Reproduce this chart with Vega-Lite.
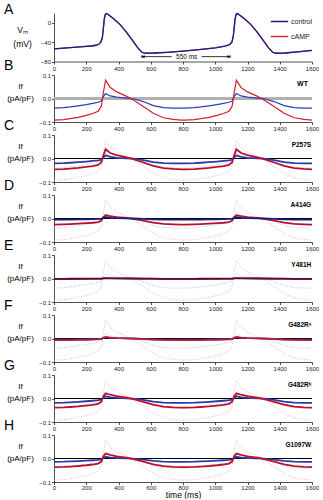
{
"$schema":"https://vega.github.io/schema/vega-lite/v6.json",
"padding":{"left":4,"top":2,"right":0,"bottom":0},
"background":"white",
"bounds":"flush",
"spacing":13,
"config":{
 "view":{"stroke":null},
 "font":"Liberation Sans",
 "axis":{"grid":false,"labelOverlap":false,"labelFlush":false,"labelFontSize":6,"tickSize":2.5,"labelPadding":1,"domainColor":"#222","tickColor":"#222","labelColor":"#222","titleColor":"#000","titleFontWeight":"normal","labelFont":"Liberation Sans","titleFont":"Liberation Sans","domainWidth":0.8,"tickWidth":0.8},
 "title":{"fontSize":14,"fontWeight":"normal","anchor":"start","frame":"group","dx":-50,"offset":-1,"baseline":"alphabetic","color":"#000","font":"Liberation Sans"}
},
"datasets":{
 "V":[{"t":0,"v":-54},{"t":60,"v":-52.5},{"t":120,"v":-51},{"t":180,"v":-49.5},{"t":230,"v":-48},{"t":260,"v":-46.5},{"t":280,"v":-44},{"t":292,"v":-39},{"t":300,"v":-30},{"t":306,"v":-12},{"t":312,"v":8},{"t":318,"v":17},{"t":326,"v":19},{"t":340,"v":16},{"t":370,"v":8},{"t":410,"v":-4},{"t":450,"v":-20},{"t":490,"v":-38},{"t":520,"v":-52},{"t":545,"v":-61},{"t":565,"v":-63},{"t":620,"v":-62.5},{"t":700,"v":-61},{"t":800,"v":-58.5},{"t":900,"v":-55.5},{"t":1000,"v":-52},{"t":1060,"v":-48.5},{"t":1090,"v":-45},{"t":1103,"v":-40},{"t":1111,"v":-30},{"t":1117,"v":-12},{"t":1123,"v":8},{"t":1129,"v":17},{"t":1137,"v":19},{"t":1151,"v":16},{"t":1181,"v":8},{"t":1221,"v":-4},{"t":1261,"v":-20},{"t":1301,"v":-38},{"t":1331,"v":-52},{"t":1356,"v":-61},{"t":1376,"v":-63},{"t":1431,"v":-62.5},{"t":1511,"v":-60},{"t":1600,"v":-57}],
 "I":[
{"t":0,"wc":-0.041,"wa":-0.092,"pc":-0.0205,"pa":-0.046,"ac":-0.005,"aa":-0.026,"yc":-0.0012,"ya":-0.0028,"fc":-0.005,"fa":-0.0074,"gc":-0.0185,"ga":-0.0386,"hc":-0.0144,"ha":-0.0368},
{"t":60,"wc":-0.039,"wa":-0.090,"pc":-0.0195,"pa":-0.045,"ac":-0.0048,"aa":-0.025,"yc":-0.0012,"ya":-0.0027,"fc":-0.0048,"fa":-0.0072,"gc":-0.0176,"ga":-0.0378,"hc":-0.0137,"ha":-0.036},
{"t":100,"wc":-0.036,"wa":-0.086,"pc":-0.018,"pa":-0.043,"ac":-0.0044,"aa":-0.024,"yc":-0.0011,"ya":-0.0026,"fc":-0.0044,"fa":-0.0069,"gc":-0.0162,"ga":-0.0361,"hc":-0.0126,"ha":-0.0344},
{"t":150,"wc":-0.031,"wa":-0.080,"pc":-0.0155,"pa":-0.040,"ac":-0.0038,"aa":-0.022,"yc":-0.0009,"ya":-0.0024,"fc":-0.0038,"fa":-0.0064,"gc":-0.014,"ga":-0.0336,"hc":-0.0109,"ha":-0.032},
{"t":200,"wc":-0.026,"wa":-0.072,"pc":-0.013,"pa":-0.036,"ac":-0.0032,"aa":-0.020,"yc":-0.0008,"ya":-0.0022,"fc":-0.0032,"fa":-0.0058,"gc":-0.0117,"ga":-0.0302,"hc":-0.0091,"ha":-0.0288},
{"t":240,"wc":-0.021,"wa":-0.064,"pc":-0.0105,"pa":-0.032,"ac":-0.0026,"aa":-0.018,"yc":-0.0006,"ya":-0.0019,"fc":-0.0026,"fa":-0.0051,"gc":-0.0095,"ga":-0.0269,"hc":-0.0074,"ha":-0.0256},
{"t":274,"wc":-0.016,"wa":-0.054,"pc":-0.008,"pa":-0.027,"ac":-0.002,"aa":-0.015,"yc":-0.0005,"ya":-0.0016,"fc":-0.002,"fa":-0.0043,"gc":-0.0072,"ga":-0.0227,"hc":-0.0056,"ha":-0.0216},
{"t":294,"wc":-0.011,"wa":-0.032,"pc":-0.0055,"pa":-0.016,"ac":-0.0013,"aa":-0.009,"yc":-0.0003,"ya":-0.001,"fc":-0.0013,"fa":-0.0026,"gc":-0.005,"ga":-0.0139,"hc":-0.0039,"ha":-0.0132},
{"t":306,"wc":0.008,"wa":0.025,"pc":0.005,"pa":0.0125,"ac":0.003,"aa":0.006,"yc":0.0002,"ya":0.0008,"fc":0.003,"fa":0.002,"gc":0.0036,"ga":0.010,"hc":0.0028,"ha":0.010},
{"t":320,"wc":0.021,"wa":0.078,"pc":0.013,"pa":0.039,"ac":0.006,"aa":0.014,"yc":0.0006,"ya":0.0023,"fc":0.006,"fa":0.0062,"gc":0.0095,"ga":0.022,"hc":0.0074,"ha":0.021},
{"t":349,"wc":0.011,"wa":0.047,"pc":0.0065,"pa":0.0235,"ac":0.003,"aa":0.010,"yc":0.0003,"ya":0.0014,"fc":0.003,"fa":0.0038,"gc":0.005,"ga":0.016,"hc":0.0039,"ha":0.015},
{"t":389,"wc":0.006,"wa":0.028,"pc":0.003,"pa":0.014,"ac":0.0015,"aa":0.006,"yc":0.0002,"ya":0.0008,"fc":0.0015,"fa":0.0022,"gc":0.0027,"ga":0.010,"hc":0.0021,"ha":0.0095},
{"t":451,"wc":0.002,"wa":0.009,"pc":0.001,"pa":0.0045,"ac":0.0002,"aa":0.0025,"yc":0.0001,"ya":0.0003,"fc":0.0002,"fa":0.0007,"gc":0.0009,"ga":0.0038,"hc":0.0007,"ha":0.0036},
{"t":492,"wc":-0.001,"wa":-0.006,"pc":-0.0005,"pa":-0.003,"ac":-0.0001,"aa":-0.0017,"yc":0,"ya":-0.0002,"fc":-0.0001,"fa":-0.0005,"gc":-0.0005,"ga":-0.0025,"hc":-0.0004,"ha":-0.0024},
{"t":554,"wc":-0.013,"wa":-0.034,"pc":-0.0065,"pa":-0.017,"ac":-0.0016,"aa":-0.0095,"yc":-0.0004,"ya":-0.001,"fc":-0.0016,"fa":-0.0027,"gc":-0.0059,"ga":-0.0143,"hc":-0.0046,"ha":-0.0136},
{"t":616,"wc":-0.030,"wa":-0.063,"pc":-0.015,"pa":-0.0315,"ac":-0.0036,"aa":-0.0176,"yc":-0.0009,"ya":-0.0019,"fc":-0.0036,"fa":-0.005,"gc":-0.0135,"ga":-0.0265,"hc":-0.0105,"ha":-0.0252},
{"t":679,"wc":-0.039,"wa":-0.082,"pc":-0.0195,"pa":-0.041,"ac":-0.0047,"aa":-0.023,"yc":-0.0012,"ya":-0.0025,"fc":-0.0047,"fa":-0.0066,"gc":-0.0176,"ga":-0.0344,"hc":-0.0137,"ha":-0.0328},
{"t":739,"wc":-0.041,"wa":-0.089,"pc":-0.0205,"pa":-0.0445,"ac":-0.005,"aa":-0.025,"yc":-0.0012,"ya":-0.0027,"fc":-0.005,"fa":-0.0071,"gc":-0.0185,"ga":-0.0374,"hc":-0.0144,"ha":-0.0356},
{"t":789,"wc":-0.041,"wa":-0.092,"pc":-0.0205,"pa":-0.046,"ac":-0.005,"aa":-0.026,"yc":-0.0012,"ya":-0.0028,"fc":-0.005,"fa":-0.0074,"gc":-0.0185,"ga":-0.0386,"hc":-0.0144,"ha":-0.0368},
{"t":811,"wc":-0.041,"wa":-0.092,"pc":-0.0205,"pa":-0.046,"ac":-0.005,"aa":-0.026,"yc":-0.0012,"ya":-0.0028,"fc":-0.005,"fa":-0.0074,"gc":-0.0185,"ga":-0.0386,"hc":-0.0144,"ha":-0.0368},
{"t":871,"wc":-0.039,"wa":-0.090,"pc":-0.0195,"pa":-0.045,"ac":-0.0048,"aa":-0.025,"yc":-0.0012,"ya":-0.0027,"fc":-0.0048,"fa":-0.0072,"gc":-0.0176,"ga":-0.0378,"hc":-0.0137,"ha":-0.036},
{"t":911,"wc":-0.036,"wa":-0.086,"pc":-0.018,"pa":-0.043,"ac":-0.0044,"aa":-0.024,"yc":-0.0011,"ya":-0.0026,"fc":-0.0044,"fa":-0.0069,"gc":-0.0162,"ga":-0.0361,"hc":-0.0126,"ha":-0.0344},
{"t":961,"wc":-0.031,"wa":-0.080,"pc":-0.0155,"pa":-0.040,"ac":-0.0038,"aa":-0.022,"yc":-0.0009,"ya":-0.0024,"fc":-0.0038,"fa":-0.0064,"gc":-0.014,"ga":-0.0336,"hc":-0.0109,"ha":-0.032},
{"t":1011,"wc":-0.026,"wa":-0.072,"pc":-0.013,"pa":-0.036,"ac":-0.0032,"aa":-0.020,"yc":-0.0008,"ya":-0.0022,"fc":-0.0032,"fa":-0.0058,"gc":-0.0117,"ga":-0.0302,"hc":-0.0091,"ha":-0.0288},
{"t":1051,"wc":-0.021,"wa":-0.064,"pc":-0.0105,"pa":-0.032,"ac":-0.0026,"aa":-0.018,"yc":-0.0006,"ya":-0.0019,"fc":-0.0026,"fa":-0.0051,"gc":-0.0095,"ga":-0.0269,"hc":-0.0074,"ha":-0.0256},
{"t":1085,"wc":-0.016,"wa":-0.054,"pc":-0.008,"pa":-0.027,"ac":-0.002,"aa":-0.015,"yc":-0.0005,"ya":-0.0016,"fc":-0.002,"fa":-0.0043,"gc":-0.0072,"ga":-0.0227,"hc":-0.0056,"ha":-0.0216},
{"t":1105,"wc":-0.011,"wa":-0.032,"pc":-0.0055,"pa":-0.016,"ac":-0.0013,"aa":-0.009,"yc":-0.0003,"ya":-0.001,"fc":-0.0013,"fa":-0.0026,"gc":-0.005,"ga":-0.0139,"hc":-0.0039,"ha":-0.0132},
{"t":1117,"wc":0.008,"wa":0.025,"pc":0.005,"pa":0.0125,"ac":0.003,"aa":0.006,"yc":0.0002,"ya":0.0008,"fc":0.003,"fa":0.002,"gc":0.0036,"ga":0.010,"hc":0.0028,"ha":0.010},
{"t":1131,"wc":0.021,"wa":0.078,"pc":0.013,"pa":0.039,"ac":0.006,"aa":0.014,"yc":0.0006,"ya":0.0023,"fc":0.006,"fa":0.0062,"gc":0.0095,"ga":0.022,"hc":0.0074,"ha":0.021},
{"t":1160,"wc":0.011,"wa":0.047,"pc":0.0065,"pa":0.0235,"ac":0.003,"aa":0.010,"yc":0.0003,"ya":0.0014,"fc":0.003,"fa":0.0038,"gc":0.005,"ga":0.016,"hc":0.0039,"ha":0.015},
{"t":1200,"wc":0.006,"wa":0.028,"pc":0.003,"pa":0.014,"ac":0.0015,"aa":0.006,"yc":0.0002,"ya":0.0008,"fc":0.0015,"fa":0.0022,"gc":0.0027,"ga":0.010,"hc":0.0021,"ha":0.0095},
{"t":1262,"wc":0.002,"wa":0.009,"pc":0.001,"pa":0.0045,"ac":0.0002,"aa":0.0025,"yc":0.0001,"ya":0.0003,"fc":0.0002,"fa":0.0007,"gc":0.0009,"ga":0.0038,"hc":0.0007,"ha":0.0036},
{"t":1303,"wc":-0.001,"wa":-0.006,"pc":-0.0005,"pa":-0.003,"ac":-0.0001,"aa":-0.0017,"yc":0,"ya":-0.0002,"fc":-0.0001,"fa":-0.0005,"gc":-0.0005,"ga":-0.0025,"hc":-0.0004,"ha":-0.0024},
{"t":1365,"wc":-0.013,"wa":-0.034,"pc":-0.0065,"pa":-0.017,"ac":-0.0016,"aa":-0.0095,"yc":-0.0004,"ya":-0.001,"fc":-0.0016,"fa":-0.0027,"gc":-0.0059,"ga":-0.0143,"hc":-0.0046,"ha":-0.0136},
{"t":1427,"wc":-0.030,"wa":-0.063,"pc":-0.015,"pa":-0.0315,"ac":-0.0036,"aa":-0.0176,"yc":-0.0009,"ya":-0.0019,"fc":-0.0036,"fa":-0.005,"gc":-0.0135,"ga":-0.0265,"hc":-0.0105,"ha":-0.0252},
{"t":1490,"wc":-0.039,"wa":-0.082,"pc":-0.0195,"pa":-0.041,"ac":-0.0047,"aa":-0.023,"yc":-0.0012,"ya":-0.0025,"fc":-0.0047,"fa":-0.0066,"gc":-0.0176,"ga":-0.0344,"hc":-0.0137,"ha":-0.0328},
{"t":1550,"wc":-0.041,"wa":-0.089,"pc":-0.0205,"pa":-0.0445,"ac":-0.005,"aa":-0.025,"yc":-0.0012,"ya":-0.0027,"fc":-0.005,"fa":-0.0071,"gc":-0.0185,"ga":-0.0374,"hc":-0.0144,"ha":-0.0356},
{"t":1600,"wc":-0.041,"wa":-0.092,"pc":-0.0205,"pa":-0.046,"ac":-0.005,"aa":-0.026,"yc":-0.0012,"ya":-0.0028,"fc":-0.005,"fa":-0.0074,"gc":-0.0185,"ga":-0.0386,"hc":-0.0144,"ha":-0.0368}
 ]
},
"vconcat":[
 {"width":258,"height":48.5,
  "title":{"text":"A","offset":-6},
  "layer":[
   {"data":{"name":"V"},"mark":{"type":"line","strokeWidth":1.3},
    "encoding":{
     "x":{"field":"t","type":"quantitative","scale":{"domain":[0,1600],"nice":false},"axis":{"values":[0,200,400,600,800,1000,1200,1400,1600],"tickCount":20,"format":"d","title":null,"labelOverlap":false}},
     "y":{"field":"v","type":"quantitative","scale":{"domain":[-80,20],"nice":false},"axis":{"values":[-80,-40,0],"tickCount":20,"labelOverlap":false,"title":["Vₘ","(mV)"],"titleAngle":0,"titleAlign":"center","titleBaseline":"middle","titleX":-32,"titleY":16,"titleFontSize":8.5,"titleLineHeight":14}},
     "color":{"datum":"cAMP","type":"nominal","scale":{"domain":["control","cAMP"],"range":["#1c1c8a","#d42a3a"]},"legend":{"orient":"top-right","offset":-1,"padding":0,"labelFontSize":7,"symbolSize":300,"symbolStrokeWidth":1.5,"rowPadding":2,"labelOffset":2,"title":null,"labelColor":"#222","symbolType":"stroke","labelFont":"Liberation Sans"}}}},
   {"data":{"name":"V"},"mark":{"type":"line","strokeWidth":1.3},
    "encoding":{
     "x":{"field":"t","type":"quantitative","scale":{"domain":[0,1600],"nice":false}},
     "y":{"field":"v","type":"quantitative","scale":{"domain":[-80,20],"nice":false}},
     "color":{"datum":"control","type":"nominal","scale":{"domain":["control","cAMP"],"range":["#1c1c8a","#d42a3a"]},"legend":{"orient":"top-right","offset":-1,"padding":0,"labelFontSize":7,"symbolSize":300,"symbolStrokeWidth":1.5,"rowPadding":2,"labelOffset":2,"title":null,"labelColor":"#222","symbolType":"stroke","labelFont":"Liberation Sans"}}}},
   {"data":{"values":[{"a":545,"b":730},{"a":915,"b":1092}]},"mark":{"type":"rule","color":"#000","strokeWidth":0.8},
    "encoding":{"x":{"field":"a","type":"quantitative"},"x2":{"field":"b"},"y":{"datum":-70}}},
   {"data":{"values":[{"a":545},{"a":1092}]},"mark":{"type":"rule","color":"#000","strokeWidth":0.8},
    "encoding":{"x":{"field":"a","type":"quantitative"},"y":{"datum":-73},"y2":{"datum":-67}}},
   {"data":{"values":[{"a":553}]},"mark":{"type":"point","shape":"triangle-left","filled":true,"color":"#000","size":10,"opacity":1},
    "encoding":{"x":{"field":"a","type":"quantitative"},"y":{"datum":-70}}},
   {"data":{"values":[{"a":1084}]},"mark":{"type":"point","shape":"triangle-right","filled":true,"color":"#000","size":10,"opacity":1},
    "encoding":{"x":{"field":"a","type":"quantitative"},"y":{"datum":-70}}},
   {"data":{"values":[{"s":"550 ms"}]},"mark":{"type":"text","fontSize":6.5,"color":"#111","baseline":"middle"},
    "encoding":{"x":{"datum":823},"y":{"datum":-70},"text":{"field":"s"}}}
  ]},
 {"width":258,"height":47,"title":{"text":"B"},"data":{"name":"I"},
  "layer":[
   {"mark":{"type":"rule","color":"#b0b0b0","strokeWidth":2},"encoding":{"y":{"datum":0,"scale":{"domain":[-0.1,0.1],"nice":false},"axis":{"values":[-0.1,0,0.1],"tickCount":20,"format":".1f","labelOverlap":false,"title":["If","(pA/pF)"],"titleAngle":0,"titleAlign":"center","titleBaseline":"middle","titleX":-34,"titleY":11.5,"titleFontSize":8,"titleLineHeight":11.5}}}},
   {"mark":{"type":"line","color":"#2a3db0","strokeWidth":1.2},"encoding":{"x":{"field":"t","type":"quantitative","scale":{"domain":[0,1600],"nice":false},"axis":{"values":[0,200,400,600,800,1000,1200,1400,1600],"tickCount":20,"format":"d","title":null,"labelOverlap":false}},"y":{"field":"wc","type":"quantitative","scale":{"domain":[-0.1,0.1],"nice":false}}}},
   {"mark":{"type":"line","color":"#d0202e","strokeWidth":1.2},"encoding":{"x":{"field":"t","type":"quantitative","scale":{"domain":[0,1600],"nice":false}},"y":{"field":"wa","type":"quantitative","scale":{"domain":[-0.1,0.1],"nice":false}}}},
   {"data":{"values":[{"g":"WT"}]},"mark":{"type":"text","align":"right","baseline":"middle","fontSize":7,"fontWeight":"bold","color":"#000"},"encoding":{"x":{"datum":1575},"y":{"datum":0.063},"text":{"field":"g"}}}
  ]},
 {"width":258,"height":47,"title":{"text":"C"},"data":{"name":"I"},
  "layer":[
   {"mark":{"type":"rule","color":"#000","strokeWidth":0.8},"encoding":{"y":{"datum":0,"scale":{"domain":[-0.1,0.1],"nice":false},"axis":{"values":[-0.1,0,0.1],"tickCount":20,"format":".1f","labelOverlap":false,"title":["If","(pA/pF)"],"titleAngle":0,"titleAlign":"center","titleBaseline":"middle","titleX":-34,"titleY":11.5,"titleFontSize":8,"titleLineHeight":11.5}}}},
   {"mark":{"type":"line","color":"#a3ace8","strokeWidth":0.8,"strokeDash":[1,1.5]},"encoding":{"x":{"field":"t","type":"quantitative","scale":{"domain":[0,1600],"nice":false},"axis":{"values":[0,200,400,600,800,1000,1200,1400,1600],"tickCount":20,"format":"d","title":null,"labelOverlap":false}},"y":{"field":"wc","type":"quantitative","scale":{"domain":[-0.1,0.1],"nice":false}}}},
   {"mark":{"type":"line","color":"#f0a0aa","strokeWidth":0.8,"strokeDash":[1,1.5]},"encoding":{"x":{"field":"t","type":"quantitative","scale":{"domain":[0,1600],"nice":false}},"y":{"field":"wa","type":"quantitative","scale":{"domain":[-0.1,0.1],"nice":false}}}},
   {"mark":{"type":"line","color":"#2c3aa8","strokeWidth":1.8},"encoding":{"x":{"field":"t","type":"quantitative","scale":{"domain":[0,1600],"nice":false}},"y":{"field":"pc","type":"quantitative","scale":{"domain":[-0.1,0.1],"nice":false}}}},
   {"mark":{"type":"line","color":"#b8102a","strokeWidth":1.8},"encoding":{"x":{"field":"t","type":"quantitative","scale":{"domain":[0,1600],"nice":false}},"y":{"field":"pa","type":"quantitative","scale":{"domain":[-0.1,0.1],"nice":false}}}},
   {"data":{"values":[{"g":"P257S"}]},"mark":{"type":"text","align":"right","baseline":"middle","fontSize":6.5,"fontWeight":"bold","color":"#000"},"encoding":{"x":{"datum":1595},"y":{"datum":0.057},"text":{"field":"g"}}}
  ]},
 {"width":258,"height":47,"title":{"text":"D"},"data":{"name":"I"},
  "layer":[
   {"mark":{"type":"rule","color":"#000","strokeWidth":0.8},"encoding":{"y":{"datum":0,"scale":{"domain":[-0.1,0.1],"nice":false},"axis":{"values":[-0.1,0,0.1],"tickCount":20,"format":".1f","labelOverlap":false,"title":["If","(pA/pF)"],"titleAngle":0,"titleAlign":"center","titleBaseline":"middle","titleX":-34,"titleY":11.5,"titleFontSize":8,"titleLineHeight":11.5}}}},
   {"mark":{"type":"line","color":"#a3ace8","strokeWidth":0.8,"strokeDash":[1,1.5]},"encoding":{"x":{"field":"t","type":"quantitative","scale":{"domain":[0,1600],"nice":false},"axis":{"values":[0,200,400,600,800,1000,1200,1400,1600],"tickCount":20,"format":"d","title":null,"labelOverlap":false}},"y":{"field":"wc","type":"quantitative","scale":{"domain":[-0.1,0.1],"nice":false}}}},
   {"mark":{"type":"line","color":"#f0a0aa","strokeWidth":0.8,"strokeDash":[1,1.5]},"encoding":{"x":{"field":"t","type":"quantitative","scale":{"domain":[0,1600],"nice":false}},"y":{"field":"wa","type":"quantitative","scale":{"domain":[-0.1,0.1],"nice":false}}}},
   {"mark":{"type":"line","color":"#b8102a","strokeWidth":1.8},"encoding":{"x":{"field":"t","type":"quantitative","scale":{"domain":[0,1600],"nice":false}},"y":{"field":"aa","type":"quantitative","scale":{"domain":[-0.1,0.1],"nice":false}}}},
   {"mark":{"type":"line","color":"#1c1c7a","strokeWidth":1.8},"encoding":{"x":{"field":"t","type":"quantitative","scale":{"domain":[0,1600],"nice":false}},"y":{"field":"ac","type":"quantitative","scale":{"domain":[-0.1,0.1],"nice":false}}}},
   {"data":{"values":[{"g":"A414G"}]},"mark":{"type":"text","align":"right","baseline":"middle","fontSize":6.5,"fontWeight":"bold","color":"#000"},"encoding":{"x":{"datum":1595},"y":{"datum":0.057},"text":{"field":"g"}}}
  ]},
 {"width":258,"height":47,"title":{"text":"E"},"data":{"name":"I"},
  "layer":[
   {"mark":{"type":"rule","color":"#000","strokeWidth":0.8},"encoding":{"y":{"datum":0,"scale":{"domain":[-0.1,0.1],"nice":false},"axis":{"values":[-0.1,0,0.1],"tickCount":20,"format":".1f","labelOverlap":false,"title":["If","(pA/pF)"],"titleAngle":0,"titleAlign":"center","titleBaseline":"middle","titleX":-34,"titleY":11.5,"titleFontSize":8,"titleLineHeight":11.5}}}},
   {"mark":{"type":"line","color":"#a3ace8","strokeWidth":0.8,"strokeDash":[1,1.5]},"encoding":{"x":{"field":"t","type":"quantitative","scale":{"domain":[0,1600],"nice":false},"axis":{"values":[0,200,400,600,800,1000,1200,1400,1600],"tickCount":20,"format":"d","title":null,"labelOverlap":false}},"y":{"field":"wc","type":"quantitative","scale":{"domain":[-0.1,0.1],"nice":false}}}},
   {"mark":{"type":"line","color":"#f0a0aa","strokeWidth":0.8,"strokeDash":[1,1.5]},"encoding":{"x":{"field":"t","type":"quantitative","scale":{"domain":[0,1600],"nice":false}},"y":{"field":"wa","type":"quantitative","scale":{"domain":[-0.1,0.1],"nice":false}}}},
   {"mark":{"type":"line","color":"#e03040","strokeWidth":1.8},"encoding":{"x":{"field":"t","type":"quantitative","scale":{"domain":[0,1600],"nice":false}},"y":{"field":"ya","type":"quantitative","scale":{"domain":[-0.1,0.1],"nice":false}}}},
   {"mark":{"type":"line","color":"#4a1040","strokeWidth":1.8},"encoding":{"x":{"field":"t","type":"quantitative","scale":{"domain":[0,1600],"nice":false}},"y":{"field":"yc","type":"quantitative","scale":{"domain":[-0.1,0.1],"nice":false}}}},
   {"data":{"values":[{"g":"Y481H"}]},"mark":{"type":"text","align":"right","baseline":"middle","fontSize":6.5,"fontWeight":"bold","color":"#000"},"encoding":{"x":{"datum":1595},"y":{"datum":0.057},"text":{"field":"g"}}}
  ]},
 {"width":258,"height":47,"title":{"text":"F"},"data":{"name":"I"},
  "layer":[
   {"mark":{"type":"rule","color":"#000","strokeWidth":0.8},"encoding":{"y":{"datum":0,"scale":{"domain":[-0.1,0.1],"nice":false},"axis":{"values":[-0.1,0,0.1],"tickCount":20,"format":".1f","labelOverlap":false,"title":["If","(pA/pF)"],"titleAngle":0,"titleAlign":"center","titleBaseline":"middle","titleX":-34,"titleY":11.5,"titleFontSize":8,"titleLineHeight":11.5}}}},
   {"mark":{"type":"line","color":"#a3ace8","strokeWidth":0.8,"strokeDash":[1,1.5]},"encoding":{"x":{"field":"t","type":"quantitative","scale":{"domain":[0,1600],"nice":false},"axis":{"values":[0,200,400,600,800,1000,1200,1400,1600],"tickCount":20,"format":"d","title":null,"labelOverlap":false}},"y":{"field":"wc","type":"quantitative","scale":{"domain":[-0.1,0.1],"nice":false}}}},
   {"mark":{"type":"line","color":"#f0a0aa","strokeWidth":0.8,"strokeDash":[1,1.5]},"encoding":{"x":{"field":"t","type":"quantitative","scale":{"domain":[0,1600],"nice":false}},"y":{"field":"wa","type":"quantitative","scale":{"domain":[-0.1,0.1],"nice":false}}}},
   {"mark":{"type":"line","color":"#2c3aa8","strokeWidth":1.8},"encoding":{"x":{"field":"t","type":"quantitative","scale":{"domain":[0,1600],"nice":false}},"y":{"field":"fc","type":"quantitative","scale":{"domain":[-0.1,0.1],"nice":false}}}},
   {"mark":{"type":"line","color":"#c81a2e","strokeWidth":1.6},"encoding":{"x":{"field":"t","type":"quantitative","scale":{"domain":[0,1600],"nice":false}},"y":{"field":"fa","type":"quantitative","scale":{"domain":[-0.1,0.1],"nice":false}}}},
   {"data":{"values":[{"g":"G482Rᵃ"}]},"mark":{"type":"text","align":"right","baseline":"middle","fontSize":6.5,"fontWeight":"bold","color":"#000"},"encoding":{"x":{"datum":1595},"y":{"datum":0.057},"text":{"field":"g"}}}
  ]},
 {"width":258,"height":47,"title":{"text":"G"},"data":{"name":"I"},
  "layer":[
   {"mark":{"type":"rule","color":"#000","strokeWidth":0.8},"encoding":{"y":{"datum":0,"scale":{"domain":[-0.1,0.1],"nice":false},"axis":{"values":[-0.1,0,0.1],"tickCount":20,"format":".1f","labelOverlap":false,"title":["If","(pA/pF)"],"titleAngle":0,"titleAlign":"center","titleBaseline":"middle","titleX":-34,"titleY":11.5,"titleFontSize":8,"titleLineHeight":11.5}}}},
   {"mark":{"type":"line","color":"#a3ace8","strokeWidth":0.8,"strokeDash":[1,1.5]},"encoding":{"x":{"field":"t","type":"quantitative","scale":{"domain":[0,1600],"nice":false},"axis":{"values":[0,200,400,600,800,1000,1200,1400,1600],"tickCount":20,"format":"d","title":null,"labelOverlap":false}},"y":{"field":"wc","type":"quantitative","scale":{"domain":[-0.1,0.1],"nice":false}}}},
   {"mark":{"type":"line","color":"#f0a0aa","strokeWidth":0.8,"strokeDash":[1,1.5]},"encoding":{"x":{"field":"t","type":"quantitative","scale":{"domain":[0,1600],"nice":false}},"y":{"field":"wa","type":"quantitative","scale":{"domain":[-0.1,0.1],"nice":false}}}},
   {"mark":{"type":"line","color":"#2c3aa8","strokeWidth":1.8},"encoding":{"x":{"field":"t","type":"quantitative","scale":{"domain":[0,1600],"nice":false}},"y":{"field":"gc","type":"quantitative","scale":{"domain":[-0.1,0.1],"nice":false}}}},
   {"mark":{"type":"line","color":"#c0102a","strokeWidth":1.8},"encoding":{"x":{"field":"t","type":"quantitative","scale":{"domain":[0,1600],"nice":false}},"y":{"field":"ga","type":"quantitative","scale":{"domain":[-0.1,0.1],"nice":false}}}},
   {"data":{"values":[{"g":"G482Rᵇ"}]},"mark":{"type":"text","align":"right","baseline":"middle","fontSize":6.5,"fontWeight":"bold","color":"#000"},"encoding":{"x":{"datum":1595},"y":{"datum":0.057},"text":{"field":"g"}}}
  ]},
 {"width":258,"height":47,"title":{"text":"H"},"data":{"name":"I"},
  "layer":[
   {"mark":{"type":"rule","color":"#000","strokeWidth":0.8},"encoding":{"y":{"datum":0,"scale":{"domain":[-0.1,0.1],"nice":false},"axis":{"values":[-0.1,0,0.1],"tickCount":20,"format":".1f","labelOverlap":false,"title":["If","(pA/pF)"],"titleAngle":0,"titleAlign":"center","titleBaseline":"middle","titleX":-34,"titleY":11.5,"titleFontSize":8,"titleLineHeight":11.5}}}},
   {"mark":{"type":"line","color":"#a3ace8","strokeWidth":0.8,"strokeDash":[1,1.5]},"encoding":{"x":{"field":"t","type":"quantitative","scale":{"domain":[0,1600],"nice":false},"axis":{"values":[0,200,400,600,800,1000,1200,1400,1600],"tickCount":20,"format":"d","title":"time (ms)","titleFontSize":8.5,"titlePadding":0,"labelPadding":0,"labelOverlap":false}},"y":{"field":"wc","type":"quantitative","scale":{"domain":[-0.1,0.1],"nice":false}}}},
   {"mark":{"type":"line","color":"#f0a0aa","strokeWidth":0.8,"strokeDash":[1,1.5]},"encoding":{"x":{"field":"t","type":"quantitative","scale":{"domain":[0,1600],"nice":false}},"y":{"field":"wa","type":"quantitative","scale":{"domain":[-0.1,0.1],"nice":false}}}},
   {"mark":{"type":"line","color":"#2c3aa8","strokeWidth":1.8},"encoding":{"x":{"field":"t","type":"quantitative","scale":{"domain":[0,1600],"nice":false}},"y":{"field":"hc","type":"quantitative","scale":{"domain":[-0.1,0.1],"nice":false}}}},
   {"mark":{"type":"line","color":"#c0102a","strokeWidth":1.8},"encoding":{"x":{"field":"t","type":"quantitative","scale":{"domain":[0,1600],"nice":false}},"y":{"field":"ha","type":"quantitative","scale":{"domain":[-0.1,0.1],"nice":false}}}},
   {"data":{"values":[{"g":"G1097W"}]},"mark":{"type":"text","align":"right","baseline":"middle","fontSize":6.5,"fontWeight":"bold","color":"#000"},"encoding":{"x":{"datum":1595},"y":{"datum":0.057},"text":{"field":"g"}}}
  ]}
]
}
